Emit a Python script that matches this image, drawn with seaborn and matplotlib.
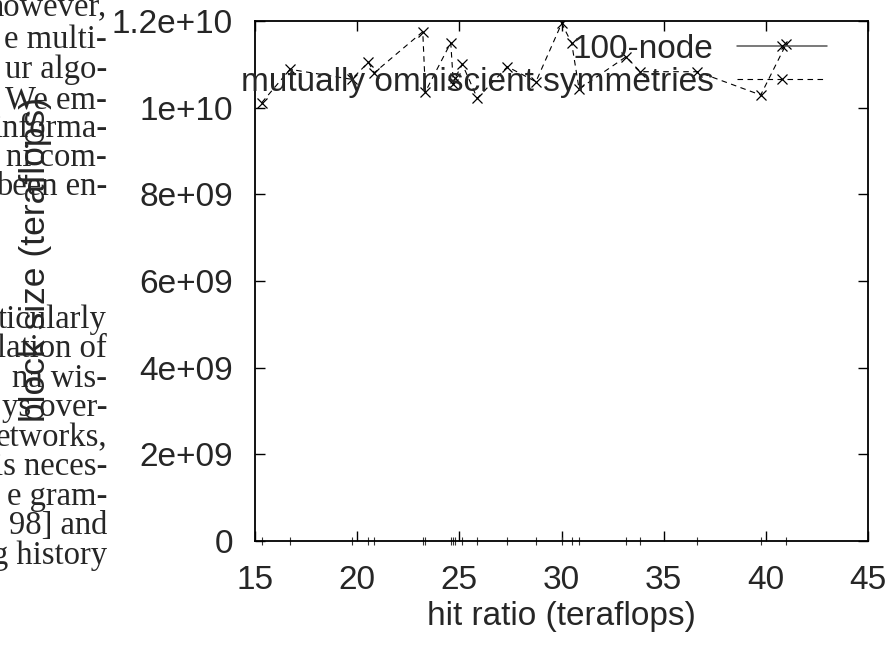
import matplotlib
matplotlib.use("Agg")
import matplotlib.pyplot as plt
import seaborn as sns
import pandas as pd

# ---------------- data ----------------
hit_ratio = [15.33, 16.71, 19.73, 20.55, 20.84, 23.21, 23.34, 24.58, 24.71, 24.79,
             25.15, 25.88, 27.35, 28.75, 30.01, 30.50, 30.86, 33.16, 33.85, 36.65,
             39.75, 40.99]
symmetries = [1.0115e10, 1.0885e10, 1.0655e10, 1.1047e10, 1.0807e10, 1.1753e10,
              1.0369e10, 1.1499e10, 1.0546e10, 1.0685e10, 1.1001e10, 1.0216e10,
              1.0945e10, 1.0599e10, 1.1947e10, 1.1485e10, 1.0431e10, 1.1176e10,
              1.0830e10, 1.0830e10, 1.0292e10, 1.1462e10]
node100_x = []
node100_y = []

series_names = ["100-node", "mutually omniscient symmetries"]
x_ticks = [15, 20, 25, 30, 35, 40, 45]
x_tick_labels = ["15", "20", "25", "30", "35", "40", "45"]
y_ticks = [0, 2e9, 4e9, 6e9, 8e9, 1e10, 1.2e10]
y_tick_labels = ["0", "2e+09", "4e+09", "6e+09", "8e+09", "1e+10", "1.2e+10"]

paper_lines = ["however,", "e multi-", "ur algo-", "We em-", "informa-", "ni com-",
               "been en-", "ticularly", "lation of", "na wis-", "ys over-",
               "etworks,", "is neces-", "e gram-", "98] and", "g history"]
paper_y = [8, 40, 70, 100, 129, 158, 187, 320, 349, 379, 408, 438, 467, 497, 526, 556]

# ---------------- style ----------------
sns.set_style("white")
plt.rcParams["font.family"] = ["Liberation Sans", "DejaVu Sans"]

W, H = 894, 646
fig = plt.figure(figsize=(W / 100, H / 100), dpi=100)
ax = fig.add_axes([255 / W, 1 - 541 / H, 613 / W, 520 / H])

# background paper text
for s, yy in zip(paper_lines, paper_y):
    fig.text(107 / W, 1 - yy / H, s, ha="right", va="center",
             family=["Liberation Serif", "DejaVu Serif"], fontsize=23.5, zorder=0)

df = pd.DataFrame({"hit": hit_ratio, "val": symmetries})

ax.plot(node100_x, node100_y, color="#555555", lw=1.1, marker="x", ms=7,
        mew=0.9, mec="black", label=series_names[0])
sns.lineplot(data=df, x="hit", y="val", ax=ax, color="black", lw=0.8,
             marker="x", markersize=7, markeredgewidth=0.9,
             markeredgecolor="black", estimator=None, sort=False,
             label=series_names[1])
ax.lines[-1].set_dashes((5, 4))

ax.set_xlim(15, 45)
ax.set_ylim(0, 1.2e10)
ax.set_xticks(x_ticks)
ax.set_xticklabels(x_tick_labels)
ax.set_yticks(y_ticks)
ax.set_yticklabels(y_tick_labels)
ax.set_xticks(hit_ratio, minor=True)

ax.tick_params(which="major", direction="in", length=7, width=1.0,
               top=True, right=True, bottom=True, left=True, labelsize=24,
               pad=17, color="black")
ax.tick_params(axis="y", which="major", pad=16)
ax.tick_params(axis="x", which="minor", direction="inout", length=6, width=0.8,
               bottom=True, top=False, color="#333333")

for sp in ax.spines.values():
    sp.set_visible(True)
    sp.set_color("black")
    sp.set_linewidth(1.3)

ax.set_xlabel("hit ratio (teraflops)", fontsize=24, va="center")
ax.xaxis.set_label_coords(0.5, (541 - 617) / 520)
ax.set_ylabel("block size (teraflops)", fontsize=25.5, va="center")
ax.yaxis.set_label_coords((36 - 255) / 613, (541 - 260) / 520)

leg = ax.legend(loc="upper right", bbox_to_anchor=((827 - 255) / 613, (541 - 34) / 520),
                frameon=False, markerfirst=False, fontsize=24, handlelength=2.7,
                handletextpad=0.7, labelspacing=0.05, borderpad=0, borderaxespad=0)
for t in leg.get_texts():
    t.set_ha("right")

fig.savefig("out.png", dpi=100)
